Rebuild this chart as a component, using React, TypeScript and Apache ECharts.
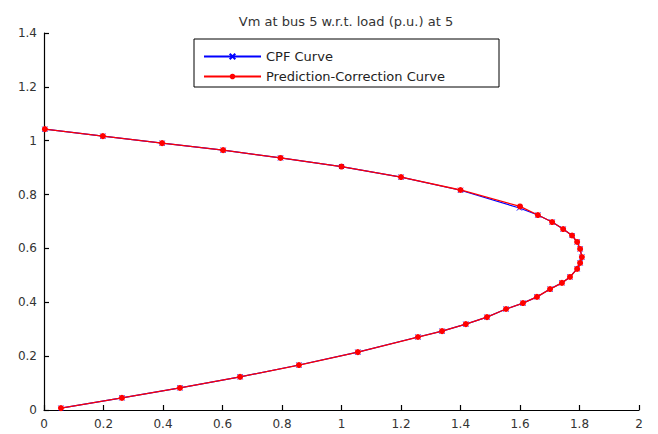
import React, { useEffect, useRef } from "react";
import * as echarts from "echarts";

const titleText = "Vm at bus 5 w.r.t. load (p.u.) at 5";
const seriesNames = ["CPF Curve", "Prediction-Correction Curve"];
const xTicks = { min: 0, max: 2, interval: 0.2 };
const yTicks = { min: 0, max: 1.4, interval: 0.2 };

const pcLoad = [
  0.003, 0.198, 0.397, 0.602, 0.795, 1.0, 1.2, 1.4, 1.6, 1.66, 1.708, 1.745, 1.775, 1.792,
  1.802, 1.808, 1.802, 1.792, 1.768, 1.741, 1.701, 1.657, 1.61, 1.553, 1.489, 1.418, 1.338,
  1.257, 1.055, 0.857, 0.659, 0.457, 0.262, 0.057,
];
const pcVm = [
  1.043, 1.017, 0.991, 0.965, 0.936, 0.904, 0.865, 0.817, 0.756, 0.724, 0.698, 0.672, 0.648,
  0.624, 0.598, 0.568, 0.546, 0.524, 0.494, 0.472, 0.449, 0.42, 0.397, 0.375, 0.345, 0.319,
  0.293, 0.271, 0.215, 0.167, 0.123, 0.082, 0.045, 0.007,
];
const cpfLoad = [
  0.003, 0.198, 0.397, 0.602, 0.795, 1.0, 1.2, 1.4, 1.598, 1.66, 1.708, 1.745, 1.775, 1.792,
  1.802, 1.808, 1.802, 1.792, 1.768, 1.741, 1.701, 1.657, 1.61, 1.553, 1.489, 1.418, 1.338,
  1.257, 1.055, 0.857, 0.659, 0.457, 0.262, 0.057,
];
const cpfVm = [
  1.043, 1.017, 0.991, 0.965, 0.936, 0.904, 0.865, 0.816, 0.75, 0.724, 0.698, 0.672, 0.648,
  0.624, 0.598, 0.568, 0.546, 0.524, 0.494, 0.472, 0.449, 0.42, 0.397, 0.375, 0.345, 0.319,
  0.293, 0.271, 0.215, 0.167, 0.123, 0.082, 0.045, 0.007,
];

const FONT = "DejaVu Sans";

export default function App() {
  const ref = useRef<HTMLDivElement>(null);
  useEffect(() => {
    if (!ref.current) return;
    const chart = echarts.init(ref.current, undefined, { renderer: "svg" });
    const axisCommon = {
      axisLine: { show: true, lineStyle: { color: "#000", width: 1.2 } },
      axisTick: { show: true, inside: true, length: 5, lineStyle: { color: "#000", width: 1.2 } },
      splitLine: { show: false },
      axisLabel: { color: "#333", fontSize: 12, fontFamily: FONT },
    };
    chart.setOption({
      animation: false,
      backgroundColor: "#fff",
      title: {
        text: titleText,
        left: 341,
        textAlign: "center",
        top: 10,
        textStyle: { fontSize: 13, fontWeight: "normal", color: "#333", fontFamily: FONT },
      },
      grid: { left: 44, right: 19, top: 33, bottom: 24, containLabel: false },
      xAxis: {
        type: "value",
        min: xTicks.min,
        max: xTicks.max,
        interval: xTicks.interval,
        ...axisCommon,
        axisLabel: { ...axisCommon.axisLabel, margin: 8 },
      },
      yAxis: {
        type: "value",
        min: yTicks.min,
        max: yTicks.max,
        interval: yTicks.interval,
        ...axisCommon,
        axisLabel: { ...axisCommon.axisLabel, margin: 7 },
      },
      legend: {
        orient: "vertical",
        left: 203,
        top: 50,
        padding: 0,
        itemWidth: 57,
        itemHeight: 7,
        itemGap: 7,
        textStyle: { fontSize: 13, color: "#222", fontFamily: FONT },
        data: seriesNames,
      },
      graphic: [
        {
          type: "rect",
          shape: { x: 194, y: 39, width: 305, height: 48 },
          style: { fill: "none", stroke: "#000", lineWidth: 1 },
          z: 10,
        },
      ],
      series: [
        {
          name: seriesNames[0],
          type: "line",
          data: cpfLoad.map((x, i) => [x, cpfVm[i]]),
          symbol: "path://M0,0L10,10M10,0L0,10",
          symbolSize: 5,
          itemStyle: { color: "#0000ff", borderColor: "#0000ff", borderWidth: 1 },
          lineStyle: { color: "#0000ff", width: 1.2 },
          z: 2,
        },
        {
          name: seriesNames[1],
          type: "line",
          data: pcLoad.map((x, i) => [x, pcVm[i]]),
          symbol: "circle",
          symbolSize: 6,
          itemStyle: { color: "#ff0000" },
          lineStyle: { color: "#ff0000", width: 1.3 },
          z: 3,
        },
      ],
    });
    return () => chart.dispose();
  }, []);
  return <div ref={ref} style={{ width: 658, height: 434, position: "absolute", left: 0, top: 0 }} />;
}
